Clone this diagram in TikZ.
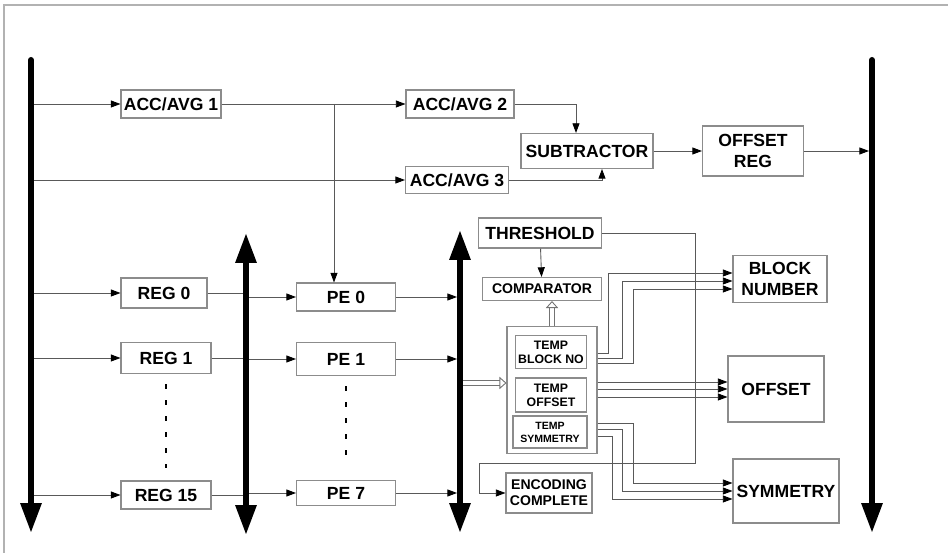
\documentclass[tikz,border=0pt]{standalone}
\usepackage{fontspec}
\setmainfont{Liberation Sans}
\usetikzlibrary{arrows.meta,positioning}

\begin{document}
\begin{tikzpicture}[x=0.02cm, y=-0.02cm,
  every node/.style={font=\bfseries\fontsize{10}{12}\selectfont},
  block/.style={draw=black!45, line width=0.6pt, fill=white, align=center, inner sep=0pt},
  wd/.style 2 args={minimum width=#1*0.02cm, minimum height=#2*0.02cm},
  smallfont/.style={font=\bfseries\fontsize{8}{9}\selectfont},
  tempfont/.style={font=\bfseries\fontsize{7}{8}\selectfont},
  tinyfont/.style={font=\bfseries\fontsize{6}{7.4}\selectfont},
  conn/.style={draw=black!65, line width=0.5pt},
  tip/.style={-{Triangle[length=5.5pt,width=4pt,color=black]}},
  bus/.style={line width=0.12cm, line cap=round, -{Triangle[length=0.6cm,width=0.4cm]}},
  dbus/.style={line width=0.12cm, {Triangle[length=0.6cm,width=0.4cm]}-{Triangle[length=0.6cm,width=0.4cm]}},
  hollow/.style={draw=black!55, line width=0.5pt, double=white, double distance=2.8pt,
    -{Triangle[open,length=4pt,width=7pt]}},
  dots/.style={line width=0.045cm, dash pattern=on 0.1cm off 0.22cm}]
  \useasboundingbox (0,0) rectangle (948,553);
  \draw[black!30, line width=1pt] (948,5) -- (4,5) -- (4,553);

  % buses
  \draw[bus] (31,60) -- (31,533);
  \draw[bus] (872,60) -- (872,533);
  \draw[dbus] (246,233) -- (246,535);
  \draw[dbus] (460,230) -- (460,533);
  \coordinate (lbusE) at (34,0);
  \coordinate (regbusW) at (243,0);
  \coordinate (regbusE) at (249,0);
  \coordinate (pebusW) at (457,0);
  \coordinate (pebusE) at (463,0);
  \coordinate (rbusW) at (869,0);

  % upper path
  \node[block,wd={100}{28}] (acc1) at (171,104) {ACC/AVG 1};
  \node[block,wd={108}{28}] (acc2) at (460,104) {ACC/AVG 2};
  \node[block,wd={103}{27}] (acc3) at (457,180) {ACC/AVG 3};
  \node[block,wd={132}{35}] (sub) at (587,151) {SUBTRACTOR};
  \node[block,wd={101}{50}] (offreg) at (753,151) {OFFSET\\REG};

  % registers and PEs
  \node[block,wd={86}{30}] (reg0) at (164,293) {REG 0};
  \node[block,wd={90}{31}] (reg1) at (166,358) {REG 1};
  \node[block,wd={90}{28}] (reg15) at (166,495) {REG 15};
  \node[block,wd={99}{28}] (pe0) at (346,297) {PE 0};
  \node[block,wd={99}{33}] (pe1) at (346,359) {PE 1};
  \node[block,wd={99}{25}] (pe7) at (346,493) {PE 7};

  % encoder
  \node[block,wd={123}{30}] (thr) at (540,233) {THRESHOLD};
  \node[block,wd={119}{23},smallfont] (cmp) at (542,289) {COMPARATOR};
  \node[block,wd={90}{127}] (tbig) at (552,390) {};
  \node[block,wd={71}{33},tempfont] (tblk) at (551,352) {TEMP\\BLOCK NO};
  \node[block,wd={71}{34},tempfont] (toff) at (551,395) {TEMP\\OFFSET};
  \node[block,wd={74}{32},tinyfont] (tsym) at (550,432) {TEMP\\SYMMETRY};
  \node[block,wd={86}{40},smallfont] (enc) at (549,493) {ENCODING\\COMPLETE};

  % outputs
  \node[block,wd={94}{47}] (blk) at (780,279) {BLOCK\\NUMBER};
  \node[block,wd={96}{66}] (off) at (776,389) {OFFSET};
  \node[block,wd={106}{64}] (sym) at (786,491) {SYMMETRY};

  \draw[conn,tip] (lbusE |- acc1) -- (acc1);
  \draw[conn,tip] (acc1) -- (acc2);
  \draw[conn,tip] (lbusE |- acc3) -- (acc3);
  \coordinate (tap) at (334,104);
  \draw[conn,tip] (tap) -- (tap |- pe0.north);
  \draw[conn,tip] (acc2.east) -| ([xshift=-0.22cm]sub.north);
  \draw[conn,tip] (acc3.east) -| ([xshift=0.3cm]sub.south);
  \draw[conn,tip] (sub) -- (offreg);
  \draw[conn,tip] (offreg.east) -- (rbusW |- offreg.east);

  \foreach \r/\p in {reg0/pe0, reg1/pe1, reg15/pe7} {
    \draw[conn,tip] (lbusE |- \r) -- (\r);
    \draw[conn] (\r) -- (regbusW |- \r);
    \draw[conn,tip] (regbusE |- \p) -- (\p);
    \draw[conn,tip] (\p) -- (pebusW |- \p);
  }
  \draw[dots] ([yshift=-0.2cm]reg1.south) -- ([yshift=0.25cm]reg15.north);
  \draw[dots] ([yshift=-0.2cm]pe1.south) -- ([yshift=0.28cm]pe7.north);

  \draw[conn,tip] (thr) -- (cmp);
  \draw[conn,tip] (thr.east) -| (695,463) -| (479,493) -- (enc.west);
  \draw[hollow] (tbig.north) -- (tbig.north |- cmp.south);
  \draw[hollow] (pebusE |- 0,383) -- (tbig.west |- 0,383);

  \foreach \ya/\xv/\yb in {353/608/273, 358/622/281, 363/633/289}
    \draw[conn,tip] (tbig.east |- 0,\ya) -| (\xv,\yb) -- (blk.west |- 0,\yb);
  \foreach \y in {382,389,397}
    \draw[conn,tip] (tbig.east |- 0,\y) -- (off.west |- 0,\y);
  \foreach \ya/\xv/\yb in {423/633/483, 429/622/491, 436/612/499}
    \draw[conn,tip] (tbig.east |- 0,\ya) -| (\xv,\yb) -- (sym.west |- 0,\yb);
\end{tikzpicture}
\end{document}
